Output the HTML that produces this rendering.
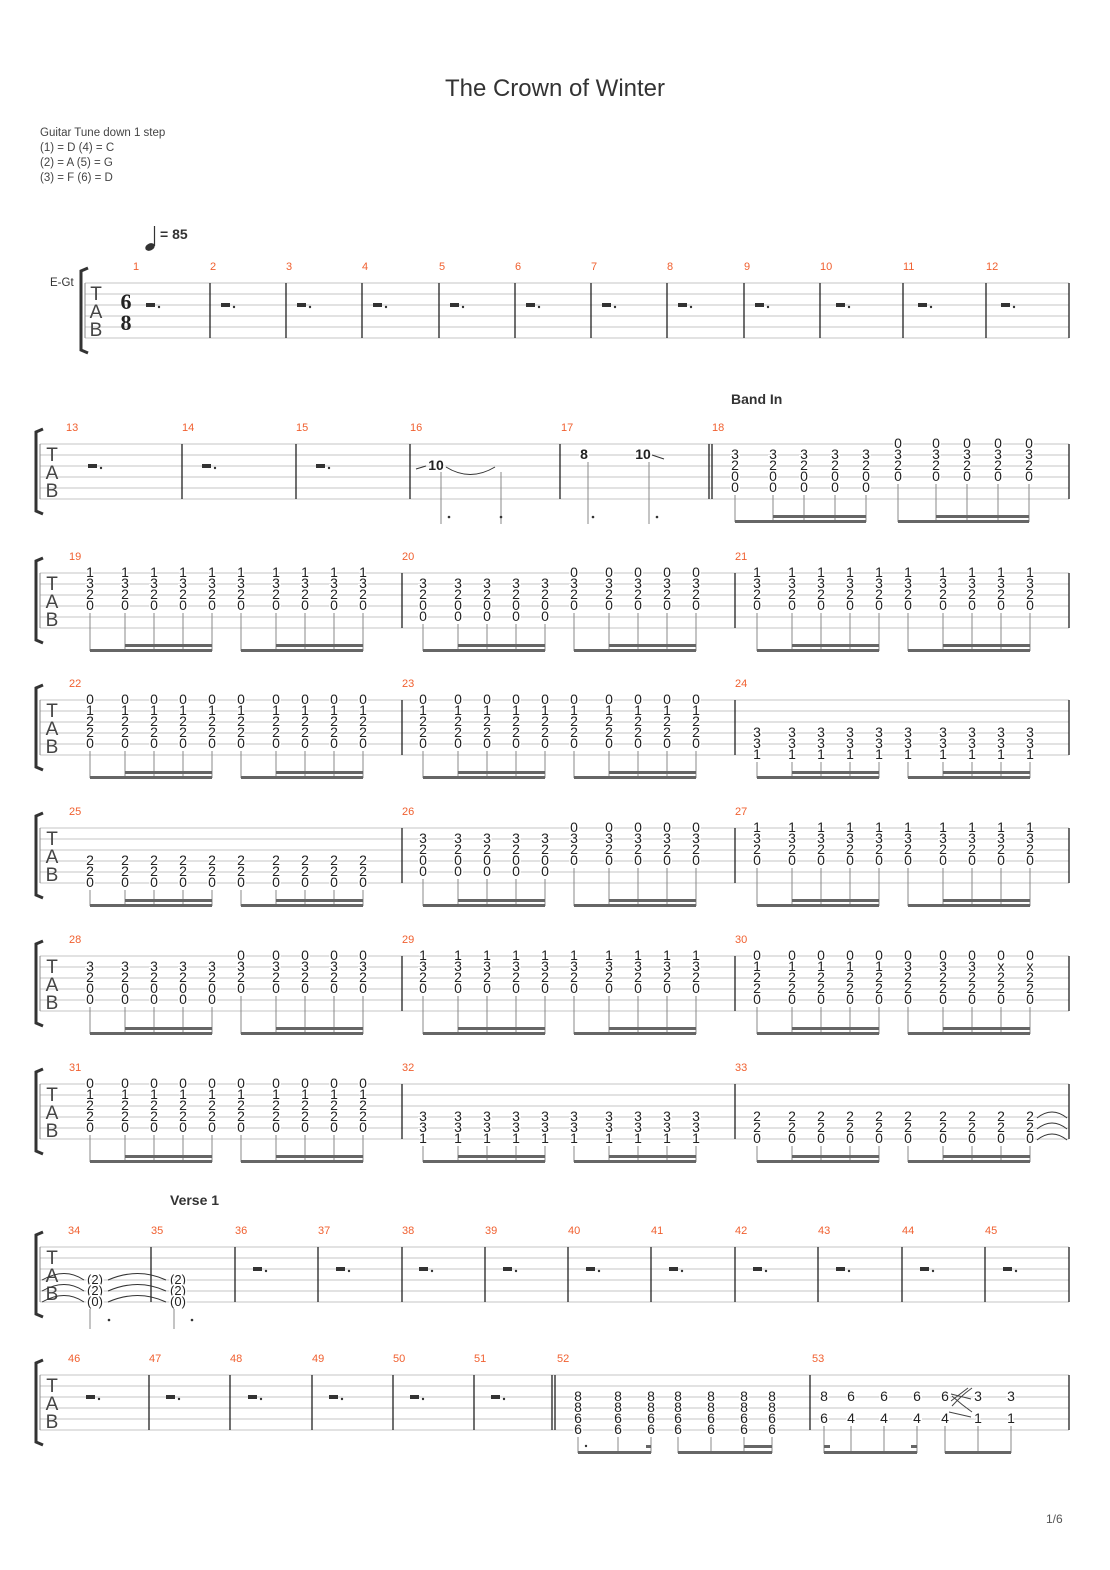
<!DOCTYPE html>
<html><head><meta charset="utf-8"><style>
body{margin:0;background:#fff;}
svg{display:block;font-family:"Liberation Sans",sans-serif;}
.n{font-size:14px;fill:#222;text-anchor:middle;paint-order:stroke;stroke:#fff;stroke-width:3px;}
.st{stroke:#c4c4c4;stroke-width:1;fill:none;}
.bl{stroke:#222;stroke-width:1.3;}
.sm{stroke:#888;stroke-width:1;fill:none;}
.bm{fill:#666;}
.mn{font-size:11px;fill:#f06030;}
.br{fill:none;stroke:#333;stroke-width:3;}
.rest{fill:#333;}
.tab{font-size:19px;fill:#444;text-anchor:middle;}
</style></head><body>
<svg width="1110" height="1570" viewBox="0 0 1110 1570">
<text x="555" y="96" text-anchor="middle" font-size="24" fill="#333">The Crown of Winter</text>
<g font-size="11.5" fill="#444">
<text x="40" y="136">Guitar Tune down 1 step</text>
<text x="40" y="151">(1) = D (4) = C</text>
<text x="40" y="166">(2) = A (5) = G</text>
<text x="40" y="181">(3) = F (6) = D</text>
</g>
<ellipse cx="150" cy="247" rx="5" ry="3.5" fill="#333" transform="rotate(-25 150 247)"/>
<line x1="154.5" y1="246" x2="154.5" y2="226" stroke="#333" stroke-width="1.2"/>
<text x="160" y="239" font-size="14" font-weight="bold" fill="#333">= 85</text>
<text x="731" y="404" font-size="14" font-weight="bold" fill="#333">Band In</text>
<text x="170" y="1205" font-size="14" font-weight="bold" fill="#333">Verse 1</text>
<text x="1046" y="1523" font-size="12" fill="#555">1/6</text>

<!-- SYSTEM 1 -->
<g transform="translate(0,283)">
<text x="50" y="3" font-size="11.5" fill="#333">E-Gt</text>
<path class="br" d="M88 -15 L81 -12 V67 L88 70"/>
<path class="st" d="M85 0H1069M85 11H1069M85 22H1069M85 33H1069M85 44H1069M85 55H1069"/>
<line x1="85" y1="0" x2="85" y2="55" stroke="#888"/>
<text class="tab" x="96" y="17">T</text><text class="tab" x="96" y="35">A</text><text class="tab" x="96" y="53">B</text>
<text x="126" y="26" font-size="22" font-weight="bold" font-family="Liberation Serif,serif" text-anchor="middle" fill="#222">6</text>
<text x="126" y="47" font-size="22" font-weight="bold" font-family="Liberation Serif,serif" text-anchor="middle" fill="#222">8</text>
<path class="bl" d="M210 0V55M286 0V55M362 0V55M439 0V55M515 0V55M591 0V55M667 0V55M744 0V55M820 0V55M903 0V55M986 0V55M1069 0V55"/>
<g class="mn"><text x="133" y="-13">1</text><text x="210" y="-13">2</text><text x="286" y="-13">3</text><text x="362" y="-13">4</text><text x="439" y="-13">5</text><text x="515" y="-13">6</text><text x="591" y="-13">7</text><text x="667" y="-13">8</text><text x="744" y="-13">9</text><text x="820" y="-13">10</text><text x="903" y="-13">11</text><text x="986" y="-13">12</text></g>
<g class="rest">
<rect x="146" y="20" width="9" height="4"/><circle cx="159" cy="24" r="1.2"/>
<rect x="221" y="20" width="9" height="4"/><circle cx="234" cy="24" r="1.2"/>
<rect x="297" y="20" width="9" height="4"/><circle cx="310" cy="24" r="1.2"/>
<rect x="373" y="20" width="9" height="4"/><circle cx="386" cy="24" r="1.2"/>
<rect x="450" y="20" width="9" height="4"/><circle cx="463" cy="24" r="1.2"/>
<rect x="526" y="20" width="9" height="4"/><circle cx="539" cy="24" r="1.2"/>
<rect x="602" y="20" width="9" height="4"/><circle cx="615" cy="24" r="1.2"/>
<rect x="678" y="20" width="9" height="4"/><circle cx="691" cy="24" r="1.2"/>
<rect x="755" y="20" width="9" height="4"/><circle cx="768" cy="24" r="1.2"/>
<rect x="836" y="20" width="9" height="4"/><circle cx="849" cy="24" r="1.2"/>
<rect x="918" y="20" width="9" height="4"/><circle cx="931" cy="24" r="1.2"/>
<rect x="1001" y="20" width="9" height="4"/><circle cx="1014" cy="24" r="1.2"/>
</g>
</g>

<!-- SYSTEM 2 -->
<g transform="translate(0,444)">
<path class="br" d="M43 -15 L36 -12 V67 L43 70"/>
<path class="st" d="M40 0H1069M40 11H1069M40 22H1069M40 33H1069M40 44H1069M40 55H1069"/>
<line x1="40" y1="0" x2="40" y2="55" stroke="#888"/>
<text class="tab" x="52" y="17">T</text><text class="tab" x="52" y="35">A</text><text class="tab" x="52" y="53">B</text>
<path class="bl" d="M182 0V55M296 0V55M410 0V55M560 0V55M709 0V55M712 0V55M1069 0V55"/>
<g class="mn"><text x="66" y="-13">13</text><text x="182" y="-13">14</text><text x="296" y="-13">15</text><text x="410" y="-13">16</text><text x="561" y="-13">17</text><text x="712" y="-13">18</text></g>
<g class="rest">
<rect x="88" y="20" width="9" height="4"/><circle cx="101" cy="24" r="1.2"/>
<rect x="202" y="20" width="9" height="4"/><circle cx="215" cy="24" r="1.2"/>
<rect x="316" y="20" width="9" height="4"/><circle cx="329" cy="24" r="1.2"/>
</g>
<path d="M416 25L426 22M446 23Q470 38 495 23M652 11L664 15" stroke="#333" fill="none"/>
<text class="n" x="436" y="26" font-weight="bold">10</text>
<text class="n" x="584" y="15" font-weight="bold">8</text>
<text class="n" x="643" y="15" font-weight="bold">10</text>
<path class="sm" d="M441 28V80M501 28V80M588 18V80M649 18V80"/>
<g fill="#333"><circle cx="449" cy="73" r="1.3"/><circle cx="501" cy="73" r="1.3"/><circle cx="593" cy="73" r="1.3"/><circle cx="657" cy="73" r="1.3"/></g>
<text class="n" x="735 773 804 835 866" y="15">33333</text>
<text class="n" x="735 773 804 835 866" y="26">22222</text>
<text class="n" x="735 773 804 835 866" y="37">00000</text>
<text class="n" x="735 773 804 835 866" y="48">00000</text>
<text class="n" x="898 936 967 998 1029" y="4">00000</text>
<text class="n" x="898 936 967 998 1029" y="15">33333</text>
<text class="n" x="898 936 967 998 1029" y="26">22222</text>
<text class="n" x="898 936 967 998 1029" y="37">00000</text>
<path class="sm" d="M735 51V78M773 51V78M804 51V78M835 51V78M866 51V78M898 40V78M936 40V78M967 40V78M998 40V78M1029 40V78"/>
<rect class="bm" x="735" y="76" width="131" height="3"/><rect class="bm" x="773" y="71" width="93" height="3"/>
<rect class="bm" x="898" y="76" width="131" height="3"/><rect class="bm" x="936" y="71" width="93" height="3"/>
</g>

<!-- SYSTEM 3: 19-21 -->
<g transform="translate(0,573)">
<path class="br" d="M43 -15 L36 -12 V67 L43 70"/>
<path class="st" d="M40 0H1069M40 11H1069M40 22H1069M40 33H1069M40 44H1069M40 55H1069"/>
<line x1="40" y1="0" x2="40" y2="55" stroke="#888"/>
<text class="tab" x="52" y="17">T</text><text class="tab" x="52" y="35">A</text><text class="tab" x="52" y="53">B</text>
<path class="bl" d="M402 0V55M735 0V55M1069 0V55"/>
<g class="mn"><text x="69" y="-13">19</text><text x="402" y="-13">20</text><text x="735" y="-13">21</text></g>
<g>
<text class="n" x="90 125 154 183 212 241 276 305 334 363" y="4">1111111111</text>
<text class="n" x="90 125 154 183 212 241 276 305 334 363" y="15">3333333333</text>
<text class="n" x="90 125 154 183 212 241 276 305 334 363" y="26">2222222222</text>
<text class="n" x="90 125 154 183 212 241 276 305 334 363" y="37">0000000000</text>
<path class="sm" d="M90 40V78M125 40V78M154 40V78M183 40V78M212 40V78M241 40V78M276 40V78M305 40V78M334 40V78M363 40V78"/>
<rect class="bm" x="90" y="76" width="122" height="3"/><rect class="bm" x="125" y="71" width="87" height="3"/><rect class="bm" x="241" y="76" width="122" height="3"/><rect class="bm" x="276" y="71" width="87" height="3"/>
</g>
<g transform="translate(333,0)">
<text class="n" x="90 125 154 183 212" y="15">33333</text>
<text class="n" x="90 125 154 183 212" y="26">22222</text>
<text class="n" x="90 125 154 183 212" y="37">00000</text>
<text class="n" x="90 125 154 183 212" y="48">00000</text>
<text class="n" x="241 276 305 334 363" y="4">00000</text>
<text class="n" x="241 276 305 334 363" y="15">33333</text>
<text class="n" x="241 276 305 334 363" y="26">22222</text>
<text class="n" x="241 276 305 334 363" y="37">00000</text>
<path class="sm" d="M90 51V78M125 51V78M154 51V78M183 51V78M212 51V78M241 40V78M276 40V78M305 40V78M334 40V78M363 40V78"/>
<rect class="bm" x="90" y="76" width="122" height="3"/><rect class="bm" x="125" y="71" width="87" height="3"/><rect class="bm" x="241" y="76" width="122" height="3"/><rect class="bm" x="276" y="71" width="87" height="3"/>
</g>
<g transform="translate(667,0)">
<text class="n" x="90 125 154 183 212 241 276 305 334 363" y="4">1111111111</text>
<text class="n" x="90 125 154 183 212 241 276 305 334 363" y="15">3333333333</text>
<text class="n" x="90 125 154 183 212 241 276 305 334 363" y="26">2222222222</text>
<text class="n" x="90 125 154 183 212 241 276 305 334 363" y="37">0000000000</text>
<path class="sm" d="M90 40V78M125 40V78M154 40V78M183 40V78M212 40V78M241 40V78M276 40V78M305 40V78M334 40V78M363 40V78"/>
<rect class="bm" x="90" y="76" width="122" height="3"/><rect class="bm" x="125" y="71" width="87" height="3"/><rect class="bm" x="241" y="76" width="122" height="3"/><rect class="bm" x="276" y="71" width="87" height="3"/>
</g>
</g>

<!-- SYSTEM 4: 22-24 -->
<g transform="translate(0,700)">
<path class="br" d="M43 -15 L36 -12 V67 L43 70"/>
<path class="st" d="M40 0H1069M40 11H1069M40 22H1069M40 33H1069M40 44H1069M40 55H1069"/>
<line x1="40" y1="0" x2="40" y2="55" stroke="#888"/>
<text class="tab" x="52" y="17">T</text><text class="tab" x="52" y="35">A</text><text class="tab" x="52" y="53">B</text>
<path class="bl" d="M402 0V55M735 0V55M1069 0V55"/>
<g class="mn"><text x="69" y="-13">22</text><text x="402" y="-13">23</text><text x="735" y="-13">24</text></g>
<g>
<text class="n" x="90 125 154 183 212 241 276 305 334 363" y="4">0000000000</text>
<text class="n" x="90 125 154 183 212 241 276 305 334 363" y="15">1111111111</text>
<text class="n" x="90 125 154 183 212 241 276 305 334 363" y="26">2222222222</text>
<text class="n" x="90 125 154 183 212 241 276 305 334 363" y="37">2222222222</text>
<text class="n" x="90 125 154 183 212 241 276 305 334 363" y="48">0000000000</text>
<path class="sm" d="M90 51V78M125 51V78M154 51V78M183 51V78M212 51V78M241 51V78M276 51V78M305 51V78M334 51V78M363 51V78"/>
<rect class="bm" x="90" y="76" width="122" height="3"/><rect class="bm" x="125" y="71" width="87" height="3"/><rect class="bm" x="241" y="76" width="122" height="3"/><rect class="bm" x="276" y="71" width="87" height="3"/>
</g>
<g transform="translate(333,0)">
<text class="n" x="90 125 154 183 212 241 276 305 334 363" y="4">0000000000</text>
<text class="n" x="90 125 154 183 212 241 276 305 334 363" y="15">1111111111</text>
<text class="n" x="90 125 154 183 212 241 276 305 334 363" y="26">2222222222</text>
<text class="n" x="90 125 154 183 212 241 276 305 334 363" y="37">2222222222</text>
<text class="n" x="90 125 154 183 212 241 276 305 334 363" y="48">0000000000</text>
<path class="sm" d="M90 51V78M125 51V78M154 51V78M183 51V78M212 51V78M241 51V78M276 51V78M305 51V78M334 51V78M363 51V78"/>
<rect class="bm" x="90" y="76" width="122" height="3"/><rect class="bm" x="125" y="71" width="87" height="3"/><rect class="bm" x="241" y="76" width="122" height="3"/><rect class="bm" x="276" y="71" width="87" height="3"/>
</g>
<g transform="translate(667,0)">
<text class="n" x="90 125 154 183 212 241 276 305 334 363" y="37">3333333333</text>
<text class="n" x="90 125 154 183 212 241 276 305 334 363" y="48">3333333333</text>
<text class="n" x="90 125 154 183 212 241 276 305 334 363" y="59">1111111111</text>
<path class="sm" d="M90 62V78M125 62V78M154 62V78M183 62V78M212 62V78M241 62V78M276 62V78M305 62V78M334 62V78M363 62V78"/>
<rect class="bm" x="90" y="76" width="122" height="3"/><rect class="bm" x="125" y="71" width="87" height="3"/><rect class="bm" x="241" y="76" width="122" height="3"/><rect class="bm" x="276" y="71" width="87" height="3"/>
</g>
</g>

<!-- SYSTEM 5: 25-27 -->
<g transform="translate(0,828)">
<path class="br" d="M43 -15 L36 -12 V67 L43 70"/>
<path class="st" d="M40 0H1069M40 11H1069M40 22H1069M40 33H1069M40 44H1069M40 55H1069"/>
<line x1="40" y1="0" x2="40" y2="55" stroke="#888"/>
<text class="tab" x="52" y="17">T</text><text class="tab" x="52" y="35">A</text><text class="tab" x="52" y="53">B</text>
<path class="bl" d="M402 0V55M735 0V55M1069 0V55"/>
<g class="mn"><text x="69" y="-13">25</text><text x="402" y="-13">26</text><text x="735" y="-13">27</text></g>
<g>
<text class="n" x="90 125 154 183 212 241 276 305 334 363" y="37">2222222222</text>
<text class="n" x="90 125 154 183 212 241 276 305 334 363" y="48">2222222222</text>
<text class="n" x="90 125 154 183 212 241 276 305 334 363" y="59">0000000000</text>
<path class="sm" d="M90 62V78M125 62V78M154 62V78M183 62V78M212 62V78M241 62V78M276 62V78M305 62V78M334 62V78M363 62V78"/>
<rect class="bm" x="90" y="76" width="122" height="3"/><rect class="bm" x="125" y="71" width="87" height="3"/><rect class="bm" x="241" y="76" width="122" height="3"/><rect class="bm" x="276" y="71" width="87" height="3"/>
</g>
<g transform="translate(333,0)">
<text class="n" x="90 125 154 183 212" y="15">33333</text>
<text class="n" x="90 125 154 183 212" y="26">22222</text>
<text class="n" x="90 125 154 183 212" y="37">00000</text>
<text class="n" x="90 125 154 183 212" y="48">00000</text>
<text class="n" x="241 276 305 334 363" y="4">00000</text>
<text class="n" x="241 276 305 334 363" y="15">33333</text>
<text class="n" x="241 276 305 334 363" y="26">22222</text>
<text class="n" x="241 276 305 334 363" y="37">00000</text>
<path class="sm" d="M90 51V78M125 51V78M154 51V78M183 51V78M212 51V78M241 40V78M276 40V78M305 40V78M334 40V78M363 40V78"/>
<rect class="bm" x="90" y="76" width="122" height="3"/><rect class="bm" x="125" y="71" width="87" height="3"/><rect class="bm" x="241" y="76" width="122" height="3"/><rect class="bm" x="276" y="71" width="87" height="3"/>
</g>
<g transform="translate(667,0)">
<text class="n" x="90 125 154 183 212 241 276 305 334 363" y="4">1111111111</text>
<text class="n" x="90 125 154 183 212 241 276 305 334 363" y="15">3333333333</text>
<text class="n" x="90 125 154 183 212 241 276 305 334 363" y="26">2222222222</text>
<text class="n" x="90 125 154 183 212 241 276 305 334 363" y="37">0000000000</text>
<path class="sm" d="M90 40V78M125 40V78M154 40V78M183 40V78M212 40V78M241 40V78M276 40V78M305 40V78M334 40V78M363 40V78"/>
<rect class="bm" x="90" y="76" width="122" height="3"/><rect class="bm" x="125" y="71" width="87" height="3"/><rect class="bm" x="241" y="76" width="122" height="3"/><rect class="bm" x="276" y="71" width="87" height="3"/>
</g>
</g>

<!-- SYSTEM 6: 28-30 -->
<g transform="translate(0,956)">
<path class="br" d="M43 -15 L36 -12 V67 L43 70"/>
<path class="st" d="M40 0H1069M40 11H1069M40 22H1069M40 33H1069M40 44H1069M40 55H1069"/>
<line x1="40" y1="0" x2="40" y2="55" stroke="#888"/>
<text class="tab" x="52" y="17">T</text><text class="tab" x="52" y="35">A</text><text class="tab" x="52" y="53">B</text>
<path class="bl" d="M402 0V55M735 0V55M1069 0V55"/>
<g class="mn"><text x="69" y="-13">28</text><text x="402" y="-13">29</text><text x="735" y="-13">30</text></g>
<g>
<text class="n" x="90 125 154 183 212" y="15">33333</text>
<text class="n" x="90 125 154 183 212" y="26">22222</text>
<text class="n" x="90 125 154 183 212" y="37">00000</text>
<text class="n" x="90 125 154 183 212" y="48">00000</text>
<text class="n" x="241 276 305 334 363" y="4">00000</text>
<text class="n" x="241 276 305 334 363" y="15">33333</text>
<text class="n" x="241 276 305 334 363" y="26">22222</text>
<text class="n" x="241 276 305 334 363" y="37">00000</text>
<path class="sm" d="M90 51V78M125 51V78M154 51V78M183 51V78M212 51V78M241 40V78M276 40V78M305 40V78M334 40V78M363 40V78"/>
<rect class="bm" x="90" y="76" width="122" height="3"/><rect class="bm" x="125" y="71" width="87" height="3"/><rect class="bm" x="241" y="76" width="122" height="3"/><rect class="bm" x="276" y="71" width="87" height="3"/>
</g>
<g transform="translate(333,0)">
<text class="n" x="90 125 154 183 212 241 276 305 334 363" y="4">1111111111</text>
<text class="n" x="90 125 154 183 212 241 276 305 334 363" y="15">3333333333</text>
<text class="n" x="90 125 154 183 212 241 276 305 334 363" y="26">2222222222</text>
<text class="n" x="90 125 154 183 212 241 276 305 334 363" y="37">0000000000</text>
<path class="sm" d="M90 40V78M125 40V78M154 40V78M183 40V78M212 40V78M241 40V78M276 40V78M305 40V78M334 40V78M363 40V78"/>
<rect class="bm" x="90" y="76" width="122" height="3"/><rect class="bm" x="125" y="71" width="87" height="3"/><rect class="bm" x="241" y="76" width="122" height="3"/><rect class="bm" x="276" y="71" width="87" height="3"/>
</g>
<g transform="translate(667,0)">
<text class="n" x="90 125 154 183 212 241 276 305 334 363" y="4">0000000000</text>
<text class="n" x="90 125 154 183 212 241 276 305 334 363" y="15">11111333xx</text>
<text class="n" x="90 125 154 183 212 241 276 305 334 363" y="26">2222222222</text>
<text class="n" x="90 125 154 183 212 241 276 305 334 363" y="37">2222222222</text>
<text class="n" x="90 125 154 183 212 241 276 305 334 363" y="48">0000000000</text>
<path class="sm" d="M90 51V78M125 51V78M154 51V78M183 51V78M212 51V78M241 51V78M276 51V78M305 51V78M334 51V78M363 51V78"/>
<rect class="bm" x="90" y="76" width="122" height="3"/><rect class="bm" x="125" y="71" width="87" height="3"/><rect class="bm" x="241" y="76" width="122" height="3"/><rect class="bm" x="276" y="71" width="87" height="3"/>
</g>
</g>

<!-- SYSTEM 7: 31-33 -->
<g transform="translate(0,1084)">
<path class="br" d="M43 -15 L36 -12 V67 L43 70"/>
<path class="st" d="M40 0H1069M40 11H1069M40 22H1069M40 33H1069M40 44H1069M40 55H1069"/>
<line x1="40" y1="0" x2="40" y2="55" stroke="#888"/>
<text class="tab" x="52" y="17">T</text><text class="tab" x="52" y="35">A</text><text class="tab" x="52" y="53">B</text>
<path class="bl" d="M402 0V55M735 0V55M1069 0V55"/>
<g class="mn"><text x="69" y="-13">31</text><text x="402" y="-13">32</text><text x="735" y="-13">33</text></g>
<g>
<text class="n" x="90 125 154 183 212 241 276 305 334 363" y="4">0000000000</text>
<text class="n" x="90 125 154 183 212 241 276 305 334 363" y="15">1111111111</text>
<text class="n" x="90 125 154 183 212 241 276 305 334 363" y="26">2222222222</text>
<text class="n" x="90 125 154 183 212 241 276 305 334 363" y="37">2222222222</text>
<text class="n" x="90 125 154 183 212 241 276 305 334 363" y="48">0000000000</text>
<path class="sm" d="M90 51V78M125 51V78M154 51V78M183 51V78M212 51V78M241 51V78M276 51V78M305 51V78M334 51V78M363 51V78"/>
<rect class="bm" x="90" y="76" width="122" height="3"/><rect class="bm" x="125" y="71" width="87" height="3"/><rect class="bm" x="241" y="76" width="122" height="3"/><rect class="bm" x="276" y="71" width="87" height="3"/>
</g>
<g transform="translate(333,0)">
<text class="n" x="90 125 154 183 212 241 276 305 334 363" y="37">3333333333</text>
<text class="n" x="90 125 154 183 212 241 276 305 334 363" y="48">3333333333</text>
<text class="n" x="90 125 154 183 212 241 276 305 334 363" y="59">1111111111</text>
<path class="sm" d="M90 62V78M125 62V78M154 62V78M183 62V78M212 62V78M241 62V78M276 62V78M305 62V78M334 62V78M363 62V78"/>
<rect class="bm" x="90" y="76" width="122" height="3"/><rect class="bm" x="125" y="71" width="87" height="3"/><rect class="bm" x="241" y="76" width="122" height="3"/><rect class="bm" x="276" y="71" width="87" height="3"/>
</g>
<g transform="translate(667,0)">
<text class="n" x="90 125 154 183 212 241 276 305 334 363" y="37">2222222222</text>
<text class="n" x="90 125 154 183 212 241 276 305 334 363" y="48">2222222222</text>
<text class="n" x="90 125 154 183 212 241 276 305 334 363" y="59">0000000000</text>
<path class="sm" d="M90 62V78M125 62V78M154 62V78M183 62V78M212 62V78M241 62V78M276 62V78M305 62V78M334 62V78M363 62V78"/>
<rect class="bm" x="90" y="76" width="122" height="3"/><rect class="bm" x="125" y="71" width="87" height="3"/><rect class="bm" x="241" y="76" width="122" height="3"/><rect class="bm" x="276" y="71" width="87" height="3"/>
<path d="M370 34Q385 22 400 34M370 45Q385 33 400 45M370 56Q385 44 400 56" stroke="#333" fill="none"/>
</g>
</g>

<!-- SYSTEM 8: 34-45 -->
<g transform="translate(0,1247)">
<path class="br" d="M43 -15 L36 -12 V67 L43 70"/>
<path class="st" d="M40 0H1069M40 11H1069M40 22H1069M40 33H1069M40 44H1069M40 55H1069"/>
<line x1="40" y1="0" x2="40" y2="55" stroke="#888"/>
<text class="tab" x="52" y="17">T</text><text class="tab" x="52" y="35">A</text><text class="tab" x="52" y="53">B</text>
<path class="bl" d="M151 0V55M235 0V55M318 0V55M402 0V55M485 0V55M568 0V55M651 0V55M735 0V55M818 0V55M902 0V55M985 0V55M1069 0V55"/>
<g class="mn"><text x="68" y="-13">34</text><text x="151" y="-13">35</text><text x="235" y="-13">36</text><text x="318" y="-13">37</text><text x="402" y="-13">38</text><text x="485" y="-13">39</text><text x="568" y="-13">40</text><text x="651" y="-13">41</text><text x="735" y="-13">42</text><text x="818" y="-13">43</text><text x="902" y="-13">44</text><text x="985" y="-13">45</text></g>
<g font-size="13" fill="#222" text-anchor="middle" style="paint-order:stroke;stroke:#fff;stroke-width:3px">
<text x="95" y="37">(2)</text><text x="95" y="48">(2)</text><text x="95" y="59">(0)</text>
<text x="178" y="37">(2)</text><text x="178" y="48">(2)</text><text x="178" y="59">(0)</text>
</g>
<path d="M42 33Q65 20 84 33M42 44Q65 31 84 44M42 55Q65 42 84 55M108 33Q138 20 166 33M108 44Q138 31 166 44M108 55Q138 42 166 55" stroke="#333" fill="none"/>
<path class="sm" d="M90 62V82M174 62V82"/>
<g fill="#333"><circle cx="109" cy="73" r="1.3"/><circle cx="192" cy="73" r="1.3"/></g>
<g class="rest">
<rect x="253" y="20" width="9" height="4"/><circle cx="266" cy="24" r="1.2"/>
<rect x="336" y="20" width="9" height="4"/><circle cx="349" cy="24" r="1.2"/>
<rect x="419" y="20" width="9" height="4"/><circle cx="432" cy="24" r="1.2"/>
<rect x="503" y="20" width="9" height="4"/><circle cx="516" cy="24" r="1.2"/>
<rect x="586" y="20" width="9" height="4"/><circle cx="599" cy="24" r="1.2"/>
<rect x="669" y="20" width="9" height="4"/><circle cx="682" cy="24" r="1.2"/>
<rect x="753" y="20" width="9" height="4"/><circle cx="766" cy="24" r="1.2"/>
<rect x="836" y="20" width="9" height="4"/><circle cx="849" cy="24" r="1.2"/>
<rect x="920" y="20" width="9" height="4"/><circle cx="933" cy="24" r="1.2"/>
<rect x="1003" y="20" width="9" height="4"/><circle cx="1016" cy="24" r="1.2"/>
</g>
</g>

<!-- SYSTEM 9: 46-53 -->
<g transform="translate(0,1375)">
<path class="br" d="M43 -15 L36 -12 V67 L43 70"/>
<path class="st" d="M40 0H1069M40 11H1069M40 22H1069M40 33H1069M40 44H1069M40 55H1069"/>
<line x1="40" y1="0" x2="40" y2="55" stroke="#888"/>
<text class="tab" x="52" y="17">T</text><text class="tab" x="52" y="35">A</text><text class="tab" x="52" y="53">B</text>
<path class="bl" d="M149 0V55M230 0V55M312 0V55M393 0V55M474 0V55M552 0V55M555 0V55M810 0V55M1069 0V55"/>
<g class="mn"><text x="68" y="-13">46</text><text x="149" y="-13">47</text><text x="230" y="-13">48</text><text x="312" y="-13">49</text><text x="393" y="-13">50</text><text x="474" y="-13">51</text><text x="557" y="-13">52</text><text x="812" y="-13">53</text></g>
<g class="rest">
<rect x="86" y="20" width="9" height="4"/><circle cx="99" cy="24" r="1.2"/>
<rect x="166" y="20" width="9" height="4"/><circle cx="179" cy="24" r="1.2"/>
<rect x="248" y="20" width="9" height="4"/><circle cx="261" cy="24" r="1.2"/>
<rect x="329" y="20" width="9" height="4"/><circle cx="342" cy="24" r="1.2"/>
<rect x="410" y="20" width="9" height="4"/><circle cx="423" cy="24" r="1.2"/>
<rect x="491" y="20" width="9" height="4"/><circle cx="504" cy="24" r="1.2"/>
</g>
<text class="n" x="578 618 651 678 711 744 772" y="26">8888888</text>
<text class="n" x="578 618 651 678 711 744 772" y="37">8888888</text>
<text class="n" x="578 618 651 678 711 744 772" y="48">6666666</text>
<text class="n" x="578 618 651 678 711 744 772" y="59">6666666</text>
<path class="sm" d="M578 62V78M618 62V78M651 62V78M678 62V78M711 62V78M744 62V78M772 62V78"/>
<rect class="bm" x="578" y="76" width="73" height="3"/><rect class="bm" x="646" y="70" width="5" height="3"/>
<rect class="bm" x="678" y="76" width="94" height="3"/><rect class="bm" x="744" y="70" width="28" height="3"/>
<circle cx="586" cy="71" r="1.2" fill="#333"/>
<path d="M951 19L971 24M968 13L951 26M949 37L971 42M952 31Q962 20 972 13M952 21Q962 30 972 37" stroke="#444" fill="none"/>
<text class="n" x="824 851 884 917 945 978 1011" y="26">8666633</text>
<text class="n" x="824 851 884 917 945 978 1011" y="48">6444411</text>
<path class="sm" d="M824 51V78M851 51V78M884 51V78M917 51V78M945 51V78M978 51V78M1011 51V78"/>
<rect class="bm" x="824" y="76" width="93" height="3"/><rect class="bm" x="824" y="70" width="6" height="3"/><rect class="bm" x="911" y="70" width="6" height="3"/>
<rect class="bm" x="945" y="76" width="66" height="3"/>
</g>
</svg>
</body></html>
